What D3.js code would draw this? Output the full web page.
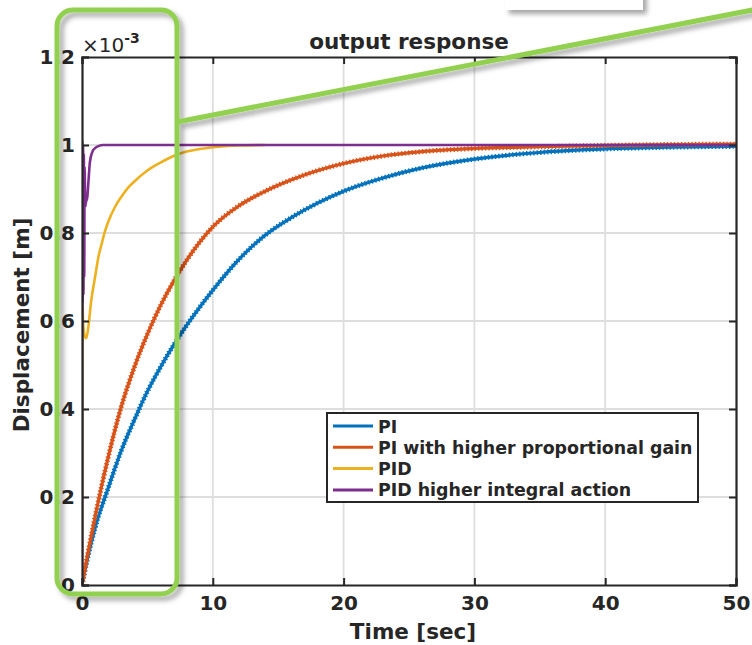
<!DOCTYPE html>
<html>
<head>
<meta charset="utf-8">
<script src="https://cdn.jsdelivr.net/npm/d3@7"></script>
<style>
  body { margin: 0; background: #fff; }
  text { font-family: "DejaVu Sans", sans-serif; font-weight: bold; fill: #262626; }
</style>
</head>
<body>
<svg id="chart" width="752" height="645"></svg>
<script>
// values (displacement in units of 1e-3 m)
const tPI = [0, 0.5, 1, 2, 3, 4, 5, 6, 7, 8, 10, 12, 14, 16, 18, 20, 23, 26, 30, 35, 40, 45, 50];
const vPI = [0, 0.07, 0.13, 0.22, 0.305, 0.375, 0.44, 0.495, 0.545, 0.59, 0.67, 0.74, 0.795, 0.835, 0.868, 0.895, 0.925, 0.948, 0.968, 0.983, 0.991, 0.995, 0.997];

const tPIhigh = [0, 0.5, 1, 2, 3, 4, 5, 6, 7, 8, 10, 12, 14, 17, 20, 23, 26, 30, 35, 40, 45, 50];
const vPIhigh = [0, 0.08, 0.155, 0.29, 0.405, 0.495, 0.57, 0.635, 0.69, 0.738, 0.814, 0.862, 0.895, 0.932, 0.958, 0.975, 0.985, 0.992, 0.996, 0.999, 1.001, 1.002];

const tPID = [0, 0.03, 0.08, 0.15, 0.25, 0.33, 0.5, 0.7, 1.0, 1.25, 1.5, 1.75, 2, 2.5, 3, 3.5, 4, 5, 6, 7, 8, 9, 10, 12, 14];
const vPID = [0, 0.64, 0.6, 0.575, 0.563, 0.561, 0.59, 0.645, 0.70, 0.745, 0.775, 0.803, 0.825, 0.858, 0.882, 0.902, 0.917, 0.942, 0.96, 0.975, 0.985, 0.991, 0.995, 0.999, 1.0];

const tPIDint = [0, 0.02, 0.05, 0.08, 0.11, 0.14, 0.17, 0.2, 0.25, 0.3, 0.4, 0.5, 0.6, 0.8, 1.0, 1.3, 1.6, 2, 50];
const vPIDint = [0, 1.01, 0.64, 1.0, 0.66, 0.98, 0.7, 0.95, 0.86, 0.87, 0.88, 0.92, 0.96, 0.985, 0.993, 0.998, 1.0, 1.0, 1.0];

const seriesNames = ["PI", "PI with higher proportional gain", "PID", "PID higher integral action"];
const seriesColors = ["#0072BD", "#D95319", "#EDB120", "#7E2F8E"];

const xTicks = [0, 10, 20, 30, 40, 50];
const yTicks = [0, 0.2, 0.4, 0.6, 0.8, 1, 1.2];
const yTickLabels = ["0", "0.2", "0.4", "0.6", "0.8", "1", "1.2"];

const series = [
  { t: tPI, v: vPI, w: 3.2, jag: true },
  { t: tPIhigh, v: vPIhigh, w: 3.2, jag: true },
  { t: tPID, v: vPID, w: 2.6, jag: false },
  { t: tPIDint, v: vPIDint, w: 2.6, jag: false }
].map((s, i) => ({ ...s, name: seriesNames[i], color: seriesColors[i],
  pts: s.t.map((t, j) => ({ t: t, v: s.v[j] })) }));

const svg = d3.select("#chart");
const margin = { left: 82, top: 57, right: 16, bottom: 60 };
const W = 752, H = 645;
const x = d3.scaleLinear().domain([0, 50]).range([margin.left, W - margin.right]);
const y = d3.scaleLinear().domain([0, 1.2]).range([H - margin.bottom, margin.top]);

const defs = svg.append("defs");
defs.append("clipPath").attr("id", "clip").append("rect")
  .attr("x", x(0)).attr("y", y(1.2)).attr("width", x(50) - x(0)).attr("height", y(0) - y(1.2));
const sh = defs.append("filter").attr("id", "shadow")
  .attr("x", "-20%").attr("y", "-20%").attr("width", "140%").attr("height", "140%");
sh.append("feDropShadow").attr("dx", 4).attr("dy", 4).attr("stdDeviation", 2.5)
  .attr("flood-color", "#000").attr("flood-opacity", 0.35);

// grid
svg.append("g").selectAll("line").data(xTicks.slice(1, -1)).join("line")
  .attr("x1", d => x(d)).attr("x2", d => x(d)).attr("y1", y(0)).attr("y2", y(1.2))
  .attr("stroke", "#dedede").attr("stroke-width", 1.8);
svg.append("g").selectAll("line").data(yTicks.slice(1, -1)).join("line")
  .attr("y1", d => y(d)).attr("y2", d => y(d)).attr("x1", x(0)).attr("x2", x(50))
  .attr("stroke", "#dedede").attr("stroke-width", 1.8);

// curves
const line = d3.line().x(d => x(d.t)).y(d => y(d.v)).curve(d3.curveMonotoneX);
const lines = svg.append("g").attr("clip-path", "url(#clip)");
series.forEach(s => {
  lines.append("path").datum(s.pts).attr("d", line)
    .attr("fill", "none").attr("stroke", s.color).attr("stroke-width", s.w)
    .attr("stroke-linejoin", "round");
  if (s.jag) {
    lines.append("path").datum(s.pts).attr("d", line)
      .attr("fill", "none").attr("stroke", s.color).attr("stroke-width", 5)
      .attr("stroke-dasharray", "1.3 2.2");
  }
});

// axes (MATLAB style box, ticks inward)
const tickLen = 7;
const axisG = svg.append("g");
const xAxisB = d3.axisBottom(x).tickValues(xTicks).tickSize(-tickLen).tickPadding(11);
axisG.append("g").attr("transform", `translate(0,${y(0)})`).call(xAxisB);
const xAxisT = d3.axisTop(x).tickValues(xTicks).tickSize(-tickLen).tickFormat("");
axisG.append("g").attr("transform", `translate(0,${y(1.2)})`).call(xAxisT);
const yAxisL = d3.axisLeft(y).tickValues(yTicks).tickSize(-tickLen).tickPadding(7)
  .tickFormat((d, i) => yTickLabels[i]);
axisG.append("g").attr("transform", `translate(${x(0)},0)`).call(yAxisL);
const yAxisR = d3.axisRight(y).tickValues(yTicks).tickSize(-tickLen).tickFormat("");
axisG.append("g").attr("transform", `translate(${x(50)},0)`).call(yAxisR);
axisG.selectAll(".domain").attr("stroke", "#262626").attr("stroke-width", 2.2);
axisG.selectAll(".tick line").attr("stroke", "#262626").attr("stroke-width", 2);
axisG.selectAll(".tick text").attr("font-size", 20).attr("font-family", "DejaVu Sans")
  .attr("font-weight", "bold").attr("fill", "#262626");

// exponent
const ex = svg.append("text").attr("x", x(0)).attr("y", 52).attr("font-size", 20);
ex.append("tspan").text("×10").style("font-weight", "normal");
ex.append("tspan").text("-3").attr("dy", -9).attr("font-size", 14);

// title and labels
svg.append("text").attr("x", (x(0) + x(50)) / 2).attr("y", 49).attr("text-anchor", "middle")
  .attr("font-size", 21.5).text("output response");
svg.append("text").attr("x", 413).attr("y", 639).attr("text-anchor", "middle")
  .attr("font-size", 21.5).text("Time [sec]");
svg.append("text").attr("transform", "translate(29,325) rotate(-90)")
  .attr("text-anchor", "middle").attr("font-size", 21.5).text("Displacement [m]");

// legend
const lg = svg.append("g").attr("transform", "translate(327,413)");
lg.append("rect").attr("width", 371).attr("height", 89)
  .attr("fill", "#fff").attr("stroke", "#262626").attr("stroke-width", 2);
series.forEach((s, i) => {
  const ly = 13 + i * 21.3;
  lg.append("line").attr("x1", 6).attr("x2", 46).attr("y1", ly).attr("y2", ly)
    .attr("stroke", s.color).attr("stroke-width", 3);
  lg.append("text").attr("x", 51).attr("y", ly + 6.5).attr("font-size", 17.4).text(s.name);
});

// callout overlay from the source figure
svg.append("rect").attr("x", 505).attr("y", -30).attr("width", 138).attr("height", 40)
  .attr("fill", "#fff").attr("filter", "url(#shadow)");
const callout = svg.append("g").attr("filter", "url(#shadow)");
callout.append("rect").attr("x", 57).attr("y", 10).attr("width", 120).attr("height", 584)
  .attr("rx", 16).attr("fill", "none").attr("stroke", "#92d050").attr("stroke-width", 5);
callout.append("line").attr("x1", 177).attr("y1", 122).attr("x2", 760).attr("y2", 8.5)
  .attr("stroke", "#92d050").attr("stroke-width", 5);
</script>
</body>
</html>
